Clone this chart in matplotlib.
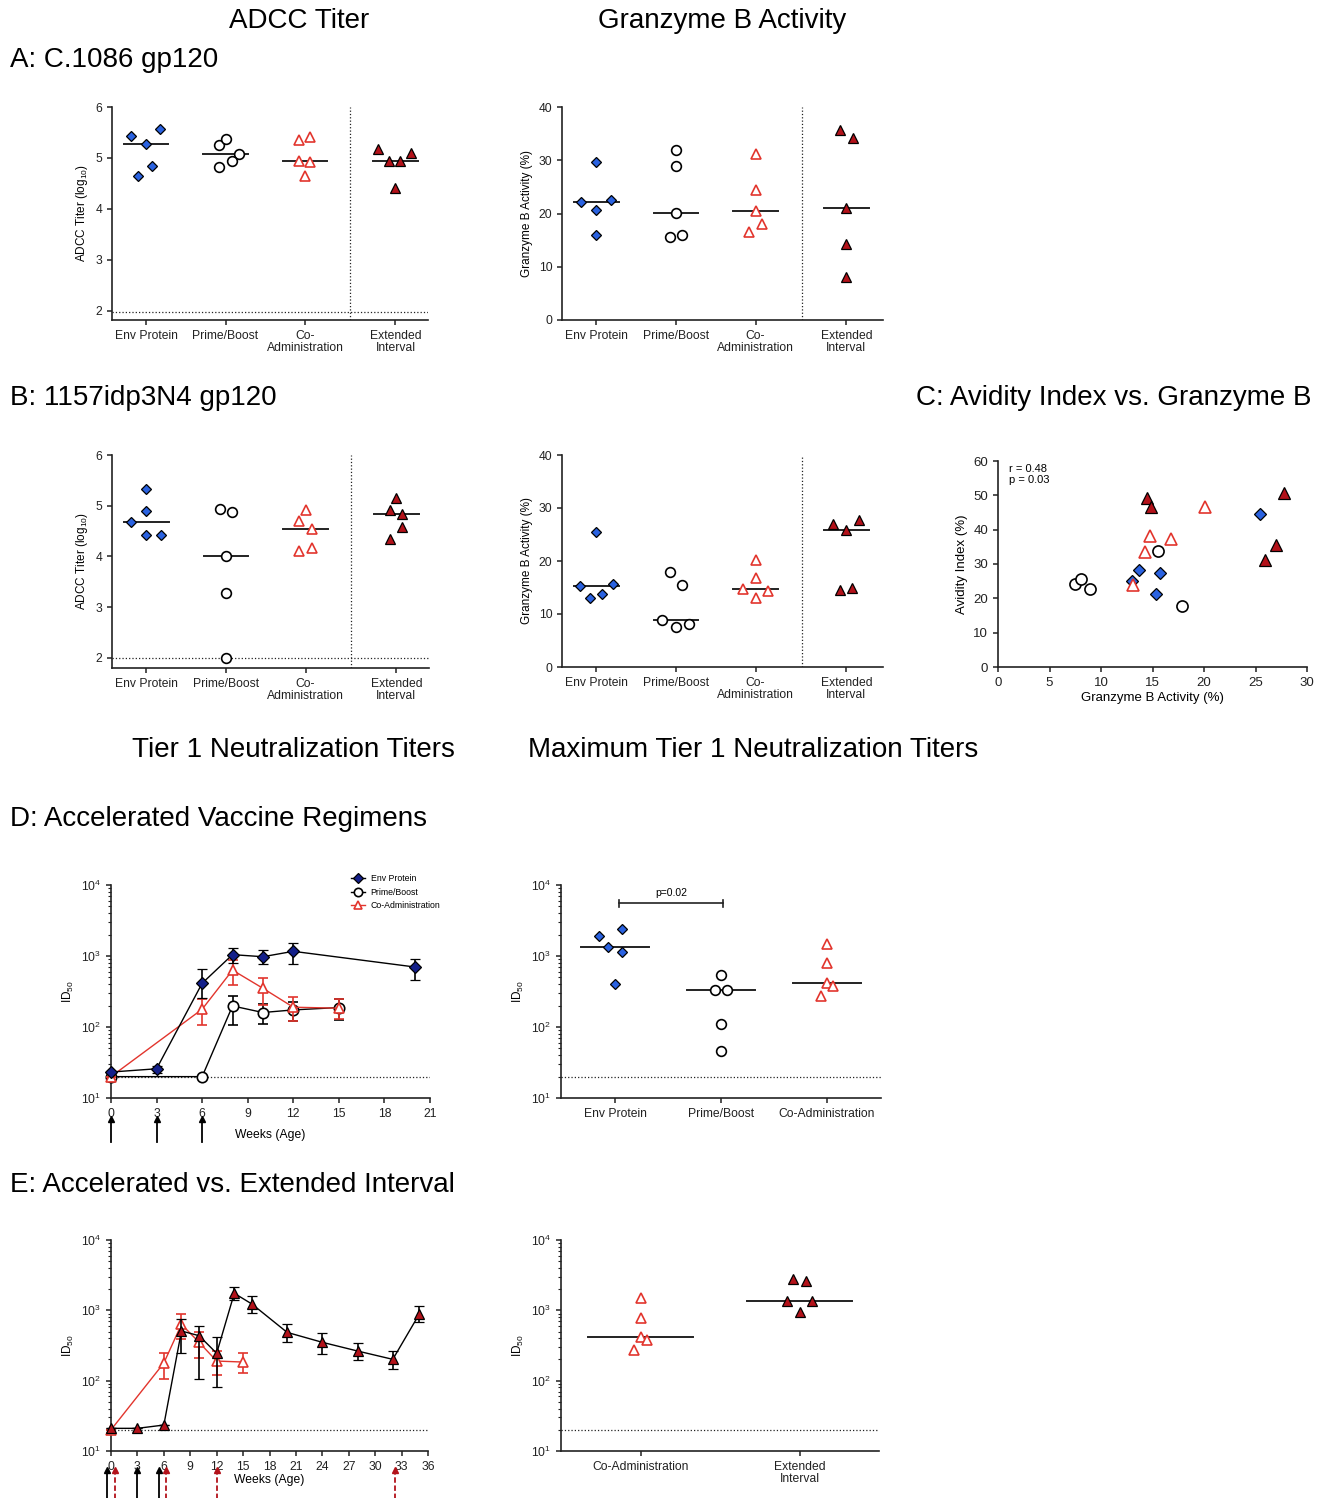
import numpy as np
import matplotlib
matplotlib.use("Agg")
import matplotlib.pyplot as plt
from matplotlib.ticker import LogLocator, NullFormatter, MultipleLocator
from matplotlib.lines import Line2D

plt.rcParams['font.family'] = ['Liberation Sans', 'DejaVu Sans']
plt.rcParams['mathtext.default'] = 'regular'

# ---------------- DATA ----------------
groups4 = ["Env Protein", "Prime/Boost", "Co-\nAdministration", "Extended\nInterval"]
groups3 = ["Env Protein", "Prime/Boost", "Co-Administration"]
groups2 = ["Co-Administration", "Extended\nInterval"]

# A: C.1086 gp120 ADCC titer (log10)
adcc_a_env = [5.44, 5.27, 5.56, 4.84, 4.65]
adcc_a_pb = [5.25, 5.38, 5.08, 4.95, 4.82]
adcc_a_co = [5.36, 5.42, 4.94, 4.92, 4.65]
adcc_a_ext = [5.18, 5.10, 4.94, 4.94, 4.42]
# A: Granzyme B activity (%)
gzb_a_env = [29.7, 22.1, 22.5, 20.6, 16.0]
gzb_a_pb = [32.0, 29.0, 20.1, 15.5, 16.0]
gzb_a_co = [31.2, 24.4, 20.4, 16.6, 18.0]
gzb_a_ext = [35.6, 34.1, 21.0, 14.2, 8.1]
# B: 1157idp3N4 gp120 ADCC titer (log10)
adcc_b_env = [5.33, 4.89, 4.68, 4.42, 4.42]
adcc_b_pb = [4.94, 4.87, 4.00, 3.27, 2.00]
adcc_b_co = [4.91, 4.70, 4.55, 4.11, 4.17]
adcc_b_ext = [5.16, 4.92, 4.84, 4.59, 4.35]
# B: Granzyme B activity (%)
gzb_b_env = [25.4, 15.3, 15.7, 13.0, 13.7]
gzb_b_pb = [17.9, 15.5, 8.9, 7.5, 8.1]
gzb_b_co = [20.1, 16.8, 14.8, 14.3, 13.1]
gzb_b_ext = [27.0, 27.8, 25.9, 14.5, 14.9]
# C: Avidity index (%) paired with panel B granzyme B values
avid_env = [44.6, 21.4, 27.3, 25.0, 28.2]
avid_pb = [17.7, 33.7, 22.6, 24.3, 25.7]
avid_co = [46.6, 37.4, 38.3, 33.5, 23.8]
avid_ext = [35.4, 50.7, 31.1, 49.3, 46.6]

# D: Tier 1 neutralization time course (ID50)
weeks_env = [0, 3, 6, 8, 10, 12, 20]
env_mean = [23.2, 25.8, 413, 1045, 977, 1164, 700]
env_hi = [24, 28, 656, 1310, 1213, 1507, 907]
env_lo = [22.5, 22.5, 260, 789, 764, 772, 465]
weeks_pb = [0, 6, 8, 10, 12, 15]
pb_mean = [20, 20, 198, 160, 174, 188]
pb_hi = [20, 20, 277, 209, 223, 246]
pb_lo = [20, 20, 106, 111, 122, 126]
weeks_co = [0, 6, 8, 10, 12, 15]
co_mean = [20, 178, 633, 351, 190, 184]
co_hi = [20, 251, 879, 486, 265, 246]
co_lo = [20, 107, 392, 207, 122, 130]
# D: maximum tier 1 titers
max_env = [1930, 1352, 2422, 1138, 405]
max_pb = [541, 330, 330, 111, 46]
max_co = [1475, 788, 413, 379, 274]
# E: extended interval time course
weeks_ext = [0, 3, 6, 8, 10, 12, 14, 16, 20, 24, 28, 32, 35]
ext_mean = [21, 21, 23.4, 508, 436, 245, 1746, 1230, 486, 351, 264, 201, 880]
ext_hi = [21, 21, 23.4, 753, 590, 423, 2170, 1600, 640, 471, 340, 264, 1150]
ext_lo = [21, 21, 23.4, 250, 106, 82, 1403, 906, 351, 240, 197, 147, 676]
max_ext = [2760, 2640, 1357, 1357, 937]
# immunization weeks (arrows)
immun_d = [0, 3, 6]
immun_e_acc = [-0.5, 3, 5.5]
immun_e_ext = [0.5, 6.3, 12, 32.3]
lod_titer = 20
lod_adcc_a = 1.97
lod_adcc_b = 2.0

# jitter layout offsets (horizontal spread of dots)
off_a_adcc = [[-0.19, 0, 0.18, 0.08, -0.10], [-0.08, 0, 0.17, 0.08, -0.08],
              [-0.08, 0.07, -0.08, 0.07, 0], [-0.22, 0.2, -0.08, 0.06, 0]]
off_a_gzb = [[0, -0.19, 0.18, 0, 0], [0, 0, 0, -0.08, 0.08],
             [0, 0, 0, -0.08, 0.08], [-0.08, 0.08, 0, 0, 0]]
off_b_adcc = [[0, 0, -0.19, 0, 0.18], [-0.08, 0.08, 0, 0, 0],
              [0, -0.08, 0.08, -0.08, 0.08], [0, -0.08, 0.07, 0.07, -0.08]]
off_b_gzb = [[0, -0.21, 0.21, -0.08, 0.07], [-0.08, 0.08, -0.17, 0, 0.16],
             [0, 0, -0.16, 0.16, 0], [-0.17, 0.16, 0, -0.08, 0.07]]
off_d_max = [[-0.15, -0.07, 0.07, 0.07, 0], [0, -0.06, 0.06, 0, 0], [0, 0, 0, 0.06, -0.06]]
off_e_max = [[0, 0, 0, 0.04, -0.04], [-0.04, 0.04, -0.08, 0.08, 0]]

# ---------------- STYLES ----------------
BLUE = '#2a62e0'
NAVY = '#14208a'
RED = '#e2352d'
DRED = '#b3121a'
DARK = '#222222'
st_env = dict(marker='D', mfc=BLUE, mec='black', mew=0.9, ms=5.6)
st_pb = dict(marker='o', mfc='white', mec='black', mew=1.2, ms=7)
st_co = dict(marker='^', mfc='white', mec=RED, mew=1.2, ms=7.5)
st_ext = dict(marker='^', mfc=DRED, mec='black', mew=0.9, ms=7.5)

W, H = 1332, 1498
fig = plt.figure(figsize=(W / 100, H / 100), dpi=100)


def ax_px(l, t, r, b):
    return fig.add_axes([l / W, 1 - b / H, (r - l) / W, (b - t) / H])


def style(ax, fs=8.7):
    for s in ['top', 'right']:
        ax.spines[s].set_visible(False)
    for s in ['left', 'bottom']:
        ax.spines[s].set_linewidth(1.2)
        ax.spines[s].set_color(DARK)
    ax.tick_params(direction='out', length=3.5, width=1.1, labelsize=fs, colors=DARK)
    ax.tick_params(which='minor', direction='out', length=2, width=0.8, colors=DARK)


def dotplot(ax, series, offsets, positions, styles, half=0.28):
    for vals, offs, pos, st in zip(series, offsets, positions, styles):
        xs = [pos + o for o in offs]
        ax.plot(xs, vals, linestyle='none', zorder=3, clip_on=False, **st)
        med = np.median(vals)
        ax.plot([pos - half, pos + half], [med, med], color=DARK, lw=1.4, zorder=2)


def logy(ax):
    ax.set_yscale('log')
    ax.set_ylim(10, 1e4)
    ax.yaxis.set_major_locator(LogLocator(base=10))
    ax.yaxis.set_minor_locator(LogLocator(base=10, subs=np.arange(2, 10)))
    ax.yaxis.set_minor_formatter(NullFormatter())


styles4 = [st_env, st_pb, st_co, st_ext]
pos4 = [0, 1, 2, 3.14]

# ---------- Panel A ----------
ax = ax_px(112, 107, 428, 320)
dotplot(ax, [adcc_a_env, adcc_a_pb, adcc_a_co, adcc_a_ext], off_a_adcc, pos4, styles4)
ax.set_xlim(-0.43, 3.55)
ax.set_ylim(1.82, 6)
ax.set_yticks([2, 3, 4, 5, 6])
ax.axhline(lod_adcc_a, color=DARK, lw=0.9, ls=':')
ax.axvline(2.57, color=DARK, lw=0.9, ls=':')
ax.set_xticks(pos4)
ax.set_xticklabels(groups4, linespacing=1.0)
ax.set_ylabel('ADCC Titer (log$_{10}$)', fontsize=8.5)
style(ax)

ax = ax_px(562, 107, 883, 320)
dotplot(ax, [gzb_a_env, gzb_a_pb, gzb_a_co, gzb_a_ext], off_a_gzb, pos4, styles4)
ax.set_xlim(-0.43, 3.6)
ax.set_ylim(0, 40)
ax.set_yticks([0, 10, 20, 30, 40])
ax.axvline(2.58, color=DARK, lw=0.9, ls=':')
ax.set_xticks(pos4)
ax.set_xticklabels(groups4, linespacing=1.0)
ax.set_ylabel('Granzyme B Activity (%)', fontsize=8.5)
style(ax)

# ---------- Panel B ----------
ax = ax_px(112, 455, 429, 668)
dotplot(ax, [adcc_b_env, adcc_b_pb, adcc_b_co, adcc_b_ext], off_b_adcc, pos4, styles4)
ax.set_xlim(-0.43, 3.55)
ax.set_ylim(1.8, 6)
ax.set_yticks([2, 3, 4, 5, 6])
ax.axhline(lod_adcc_b, color=DARK, lw=0.9, ls=':')
ax.axvline(2.57, color=DARK, lw=0.9, ls=':')
ax.set_xticks(pos4)
ax.set_xticklabels(groups4, linespacing=1.0)
ax.set_ylabel('ADCC Titer (log$_{10}$)', fontsize=8.5)
style(ax)

ax = ax_px(562, 455, 883, 667)
dotplot(ax, [gzb_b_env, gzb_b_pb, gzb_b_co, gzb_b_ext], off_b_gzb, pos4, styles4)
ax.set_xlim(-0.43, 3.6)
ax.set_ylim(0, 40)
ax.set_yticks([0, 10, 20, 30, 40])
ax.axvline(2.58, color=DARK, lw=0.9, ls=':')
ax.set_xticks(pos4)
ax.set_xticklabels(groups4, linespacing=1.0)
ax.set_ylabel('Granzyme B Activity (%)', fontsize=8.5)
style(ax)

# ---------- Panel C ----------
ax = ax_px(998, 461, 1307, 667)
sc_styles = [dict(st_env, ms=6.2), dict(st_pb, ms=8), dict(st_co, ms=8.5), dict(st_ext, ms=8.5)]
for xv, yv, st in zip([gzb_b_env, gzb_b_pb, gzb_b_co, gzb_b_ext],
                      [avid_env, avid_pb, avid_co, avid_ext], sc_styles):
    ax.plot(xv, yv, linestyle='none', zorder=3, **st)
ax.set_xlim(0, 30)
ax.set_ylim(0, 60)
ax.xaxis.set_major_locator(MultipleLocator(5))
ax.yaxis.set_major_locator(MultipleLocator(10))
ax.set_xlabel('Granzyme B Activity (%)', fontsize=9.5, labelpad=2)
ax.set_ylabel('Avidity Index (%)', fontsize=9.5)
ax.text(0.035, 0.985, 'r = 0.48\np = 0.03', transform=ax.transAxes, fontsize=8,
        va='top', ha='left', linespacing=1.15)
style(ax, fs=9.5)

# ---------- Panel D ----------
ax = ax_px(111, 885, 430, 1098)
logy(ax)
ax.plot([0, 21], [lod_titer, lod_titer], color=DARK, lw=0.9, ls=':', zorder=1)
ekw = dict(capsize=3.5, elinewidth=1.2, capthick=1.2, clip_on=False)
ax.errorbar(weeks_pb, pb_mean,
            yerr=[np.subtract(pb_mean, pb_lo), np.subtract(pb_hi, pb_mean)],
            color='black', lw=1.0, ecolor='black', zorder=3, **ekw,
            **dict(st_pb, ms=7.5))
ax.errorbar(weeks_co, co_mean,
            yerr=[np.subtract(co_mean, co_lo), np.subtract(co_hi, co_mean)],
            color=RED, lw=1.0, ecolor=RED, zorder=4, **ekw, **st_co)
ax.errorbar(weeks_env, env_mean,
            yerr=[np.subtract(env_mean, env_lo), np.subtract(env_hi, env_mean)],
            color='black', lw=1.0, ecolor='black', zorder=5, **ekw,
            **dict(st_env, mfc=NAVY, ms=5.8))
ax.set_xlim(0, 21)
ax.set_xticks(range(0, 22, 3))
ax.set_ylabel('ID$_{50}$', fontsize=8.5)
ax.set_xlabel('Weeks (Age)', fontsize=8.7, labelpad=7)
for w in immun_d:
    ax.plot([w, w], [-0.207, -0.1], transform=ax.get_xaxis_transform(), clip_on=False,
            color='black', lw=1.3)
    ax.plot([w], [-0.1], transform=ax.get_xaxis_transform(), clip_on=False,
            marker='^', ms=4.5, color='black')
leg_handles = [
    Line2D([], [], color='black', lw=1.0, **dict(st_env, mfc=NAVY, ms=5)),
    Line2D([], [], color='black', lw=1.0, **dict(st_pb, ms=6)),
    Line2D([], [], color=RED, lw=1.0, **dict(st_co, ms=6)),
]
ax.legend(leg_handles, groups3, loc='upper left', bbox_to_anchor=(0.74, 1.07),
          frameon=False, fontsize=6.3, handlelength=1.6, handletextpad=0.6,
          borderpad=0, labelspacing=0.5)
style(ax)

ax = ax_px(561, 885, 881, 1098)
logy(ax)
dotplot(ax, [max_env, max_pb, max_co], off_d_max, [0, 1, 2], [st_env, st_pb, st_co], half=0.32)
ax.axhline(lod_titer, color=DARK, lw=0.9, ls=':')
ax.set_xlim(-0.51, 2.51)
ax.set_xticks([0, 1, 2])
ax.set_xticklabels(groups3)
ax.set_ylabel('ID$_{50}$', fontsize=8.5)
ax.plot([0.04, 1.02], [5500, 5500], color=DARK, lw=1.2)
for xb in [0.04, 1.02]:
    ax.plot([xb, xb], [4900, 6200], color=DARK, lw=1.2)
ax.text(0.53, 6600, 'p=0.02', ha='center', va='bottom', fontsize=7.5)
style(ax)

# ---------- Panel E ----------
ax = ax_px(111, 1240, 428, 1451)
logy(ax)
ax.plot([0, 36], [lod_titer, lod_titer], color=DARK, lw=0.9, ls=':', zorder=1)
ax.errorbar(weeks_co, co_mean,
            yerr=[np.subtract(co_mean, co_lo), np.subtract(co_hi, co_mean)],
            color=RED, lw=1.0, ecolor=RED, zorder=3, **ekw, **st_co)
ax.errorbar(weeks_ext, ext_mean,
            yerr=[np.subtract(ext_mean, ext_lo), np.subtract(ext_hi, ext_mean)],
            color='black', lw=1.0, ecolor='black', zorder=4, **ekw, **st_ext)
ax.set_xlim(0, 36)
ax.set_xticks(range(0, 37, 3))
ax.set_ylabel('ID$_{50}$', fontsize=8.5)
ax.set_xlabel('Weeks (Age)', fontsize=8.7, labelpad=1)
for w in immun_e_acc:
    ax.plot([w, w], [-0.3, -0.09], transform=ax.get_xaxis_transform(), clip_on=False,
            color='black', lw=1.3)
    ax.plot([w], [-0.09], transform=ax.get_xaxis_transform(), clip_on=False,
            marker='^', ms=4.5, color='black')
for w in immun_e_ext:
    ax.plot([w, w], [-0.3, -0.09], transform=ax.get_xaxis_transform(), clip_on=False,
            color=DRED, lw=1.3, ls=(0, (3, 1.5)))
    ax.plot([w], [-0.09], transform=ax.get_xaxis_transform(), clip_on=False,
            marker='^', ms=4.5, color=DRED)
style(ax)

ax = ax_px(561, 1240, 879, 1451)
logy(ax)
dotplot(ax, [max_co, max_ext], off_e_max, [0, 1], [st_co, st_ext], half=0.33)
ax.axhline(lod_titer, color=DARK, lw=0.9, ls=':')
ax.set_xlim(-0.5, 1.5)
ax.set_xticks([0, 1])
ax.set_xticklabels(groups2, linespacing=1.0)
ax.set_ylabel('ID$_{50}$', fontsize=8.5)
style(ax)

# ---------- Titles ----------
def ftext(x, y, s, ha='left'):
    fig.text(x / W, 1 - y / H, s, ha=ha, va='center', fontsize=20, color='black')

ftext(299, 21, 'ADCC Titer', ha='center')
ftext(722, 21, 'Granzyme B Activity', ha='center')
ftext(10, 60, 'A: C.1086 gp120')
ftext(10, 398, 'B: 1157idp3N4 gp120')
ftext(916, 398, 'C: Avidity Index vs. Granzyme B')
ftext(293, 750, 'Tier 1 Neutralization Titers', ha='center')
ftext(753, 750, 'Maximum Tier 1 Neutralization Titers', ha='center')
ftext(10, 819, 'D: Accelerated Vaccine Regimens')
ftext(10, 1185, 'E: Accelerated vs. Extended Interval')

fig.savefig('out.png', dpi=100, facecolor='white')
